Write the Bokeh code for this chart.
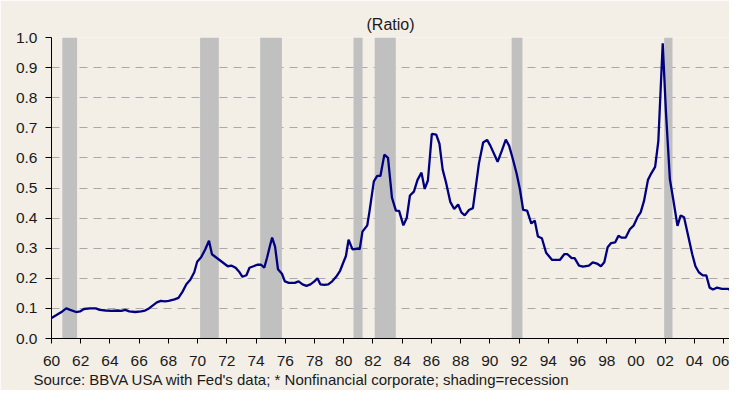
from bokeh.plotting import figure
from bokeh.models import Range1d, FixedTicker, Title, PrintfTickFormatter
from bokeh.embed import file_html
from bokeh.resources import INLINE

# ---- data ----
years = [1960.00, 1960.34, 1960.74, 1961.01, 1961.28, 1961.68, 1961.95, 1962.22, 1962.63, 1963.03,
         1963.30, 1963.71, 1964.11, 1964.52, 1964.78, 1965.05, 1965.32, 1965.73, 1966.13, 1966.40,
         1966.67, 1966.94, 1967.21, 1967.48, 1967.75, 1968.02, 1968.42, 1968.69, 1968.96, 1969.23,
         1969.50, 1969.77, 1969.97, 1970.24, 1970.51, 1970.78, 1970.98, 1971.25, 1971.52, 1971.79,
         1972.06, 1972.33, 1972.60, 1972.87, 1973.07, 1973.34, 1973.55, 1973.82, 1974.08, 1974.35,
         1974.56, 1974.76, 1974.96, 1975.10, 1975.30, 1975.50, 1975.77, 1975.97, 1976.24, 1976.65,
         1976.91, 1977.18, 1977.45, 1977.72, 1977.99, 1978.20, 1978.40, 1978.67, 1978.94, 1979.21,
         1979.48, 1979.75, 1979.95, 1980.15, 1980.33, 1980.60, 1981.01, 1981.09, 1981.28, 1981.61,
         1981.77, 1982.06, 1982.29, 1982.51, 1982.78, 1983.03, 1983.30, 1983.57, 1983.79, 1984.08,
         1984.31, 1984.53, 1984.80, 1985.05, 1985.32, 1985.54, 1985.76, 1986.03, 1986.33, 1986.55,
         1986.77, 1987.00, 1987.29, 1987.56, 1987.83, 1988.05, 1988.28, 1988.57, 1988.84, 1989.25,
         1989.54, 1989.81, 1990.04, 1990.53, 1990.82, 1991.09, 1991.32, 1991.54, 1991.83, 1992.06,
         1992.28, 1992.55, 1992.84, 1993.07, 1993.29, 1993.56, 1993.85, 1994.26, 1994.79, 1995.09,
         1995.31, 1995.60, 1995.80, 1996.10, 1996.37, 1996.78, 1997.04, 1997.33, 1997.60, 1997.83,
         1998.06, 1998.30, 1998.57, 1998.80, 1999.02, 1999.29, 1999.58, 1999.85, 2000.10, 2000.32,
         2000.55, 2000.82, 2001.04, 2001.31, 2001.53, 2001.83, 2002.05, 2002.32, 2002.55, 2002.84,
         2003.06, 2003.29, 2003.56, 2003.85, 2004.07, 2004.30, 2004.57, 2004.81, 2005.04, 2005.27,
         2005.55, 2005.88, 2006.32, 2006.55, 2006.77]
ratio = [0.068, 0.078, 0.090, 0.100, 0.095, 0.088, 0.090, 0.098, 0.100, 0.100,
         0.095, 0.093, 0.092, 0.093, 0.092, 0.095, 0.090, 0.088, 0.090, 0.093,
         0.100, 0.110, 0.120, 0.125, 0.123, 0.125, 0.130, 0.135, 0.155, 0.180,
         0.195, 0.220, 0.255, 0.270, 0.295, 0.325, 0.280, 0.270, 0.260, 0.250,
         0.240, 0.242, 0.235, 0.220, 0.205, 0.210, 0.235, 0.240, 0.245, 0.245,
         0.235, 0.270, 0.310, 0.335, 0.305, 0.230, 0.215, 0.190, 0.185, 0.185,
         0.190, 0.180, 0.175, 0.180, 0.190, 0.200, 0.180, 0.178, 0.180, 0.190,
         0.205, 0.225, 0.250, 0.274, 0.328, 0.296, 0.299, 0.296, 0.355, 0.376,
         0.425, 0.522, 0.540, 0.540, 0.611, 0.600, 0.468, 0.425, 0.424, 0.376,
         0.400, 0.475, 0.488, 0.527, 0.551, 0.497, 0.525, 0.680, 0.677, 0.647,
         0.561, 0.518, 0.454, 0.430, 0.445, 0.419, 0.409, 0.427, 0.433, 0.581,
         0.651, 0.660, 0.640, 0.587, 0.624, 0.661, 0.640, 0.602, 0.548, 0.495,
         0.427, 0.425, 0.382, 0.392, 0.339, 0.333, 0.285, 0.261, 0.261, 0.280,
         0.280, 0.267, 0.267, 0.242, 0.239, 0.242, 0.253, 0.249, 0.240, 0.253,
         0.303, 0.317, 0.319, 0.341, 0.335, 0.335, 0.363, 0.376, 0.403, 0.419,
         0.457, 0.527, 0.548, 0.570, 0.656, 0.981, 0.753, 0.529, 0.462, 0.374,
         0.409, 0.403, 0.344, 0.280, 0.240, 0.220, 0.210, 0.210, 0.169, 0.163,
         0.169, 0.165, 0.165, 0.156, 0.172]

recession_start = [1960.74, 1970.17, 1974.28, 1980.67, 1982.12, 1991.49, 2001.93]
recession_end = [1961.75, 1971.45, 1975.77, 1981.29, 1983.56, 1992.23, 2002.50]

tick_years = list(range(1960, 2007, 2))
tick_labels = ["60", "62", "64", "66", "68", "70", "72", "74", "76", "78", "80", "82",
               "84", "86", "88", "90", "92", "94", "96", "98", "00", "02", "04", "06"]
y_ticks = [0.0, 0.1, 0.2, 0.3, 0.4, 0.5, 0.6, 0.7, 0.8, 0.9, 1.0]

subtitle_text = "(Ratio)"
source_text = "Source: BBVA USA with Fed's data; * Nonfinancial corporate; shading=recession"

# ---- figure ----
FONT = "Liberation Sans"
BG = "#f3efe7"
TXT = "#1a1a1a"

p = figure(width=729, height=390, output_backend="svg", toolbar_location=None,
           x_range=Range1d(1960, 2006.4), y_range=Range1d(0, 1.0),
           min_border_left=51, min_border_right=0, min_border_top=37, min_border_bottom=52)
p.background_fill_color = BG
p.border_fill_color = BG
p.outline_line_color = None

# recession shading
p.quad(left=recession_start, right=recession_end, bottom=0, top=1.0,
       fill_color="#c0c0c0", line_color=None)

# series
p.line(years, ratio, line_color="#000080", line_width=2.3)

# grid
p.xgrid.visible = False
p.ygrid.ticker = FixedTicker(ticks=y_ticks)
p.ygrid.grid_line_color = "#a9a9a9"
p.ygrid.grid_line_dash = "8 6"
p.ygrid.grid_line_width = 1

# x axis
xa = p.xaxis[0]
xa.ticker = FixedTicker(ticks=tick_years)
xa.major_label_overrides = {y: l for y, l in zip(tick_years, tick_labels)}
xa.major_label_text_font = FONT
xa.major_label_text_font_size = "15.5px"
xa.major_label_text_color = TXT
xa.major_label_standoff = 12
xa.major_tick_in = 0
xa.major_tick_out = 5
xa.minor_tick_line_color = None
xa.axis_line_color = "#000000"
xa.major_tick_line_color = "#000000"

# y axis
ya = p.yaxis[0]
ya.ticker = FixedTicker(ticks=y_ticks)
ya.formatter = PrintfTickFormatter(format="%.1f")
ya.major_label_text_font = FONT
ya.major_label_text_font_size = "15.5px"
ya.major_label_text_color = TXT
ya.major_label_standoff = 8
ya.major_tick_in = 0
ya.major_tick_out = 6
ya.minor_tick_line_color = None
ya.axis_line_color = "#000000"
ya.major_tick_line_color = "#000000"

# texts
p.add_layout(Title(text=subtitle_text, align="center", offset=-5, standoff=9,
                   text_font=FONT, text_font_size="16px", text_font_style="normal",
                   text_color=TXT), "above")
p.add_layout(Title(text=source_text, align="left", offset=-18, standoff=0,
                   text_font=FONT, text_font_size="15px", text_font_style="normal",
                   text_color=TXT), "below")

open("out.html", "w").write(file_html(p, INLINE))
